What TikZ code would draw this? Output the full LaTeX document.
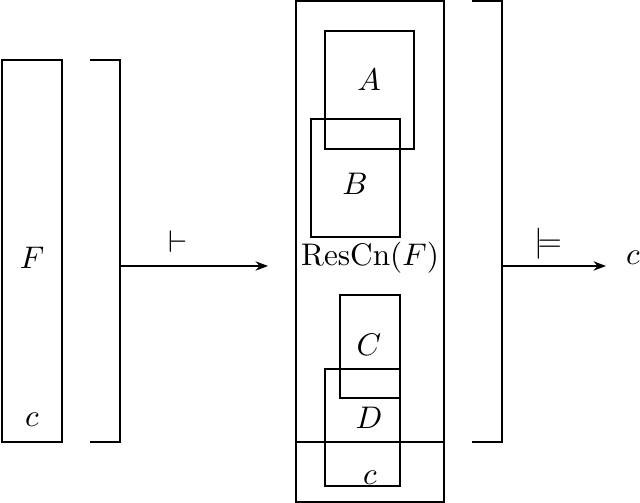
\documentclass[tikz,border=0pt]{standalone}
\usetikzlibrary{arrows.meta}
\begin{document}
\begin{tikzpicture}[x=0.32pt,y=-0.32pt,
  thickbox/.style={draw,line width=0.75pt},
  thinbox/.style={draw,line width=0.45pt},
  lbl/.style={inner sep=0pt},
  arr/.style={-{Stealth[length=4pt,width=3pt]},line width=0.45pt}]
\useasboundingbox (0,0) rectangle (640,503);
\draw[thickbox] (2,60) rectangle (62,442);
\node[lbl] (F) at (32,258) {$F$};
\node[lbl] (c1) at (32,420) {$c$};
\draw[thickbox] (90,60) -- (120,60) -- (120,442) -- (90,442);
\coordinate (a1s) at (120,266);
\coordinate (a1e) at (268,266);
\draw[arr] (a1s) -- (a1e);
\node[lbl] (vd) at (178,242) {$\vdash$};
\draw[thickbox] (296,1) rectangle (444,502);
\draw[thinbox] (296,442) -- (444,442);
\draw[thinbox] (325,31) rectangle (414,149);
\draw[thinbox] (311,119) rectangle (400,237);
\draw[thinbox] (340,295) rectangle (400,398);
\draw[thinbox] (325,369) rectangle (400,486);
\node[lbl] (A) at (369,80) {$A$};
\node[lbl] (B) at (355,184) {$B$};
\node[lbl] (R) at (370,258) {$\mathrm{ResCn}(F)$};
\node[lbl] (C) at (369,345) {$C$};
\node[lbl] (D) at (369,418) {$D$};
\node[lbl] (c2) at (370,478) {$c$};
\draw[thickbox] (472,1) -- (502,1) -- (502,442) -- (472,442);
\coordinate (a2s) at (502,266);
\coordinate (a2e) at (606,266);
\draw[arr] (a2s) -- (a2e);
\node[lbl] (md) at (548,244) {$\models$};
\node[lbl] (c3) at (633,258) {$c$};
\end{tikzpicture}
\end{document}
